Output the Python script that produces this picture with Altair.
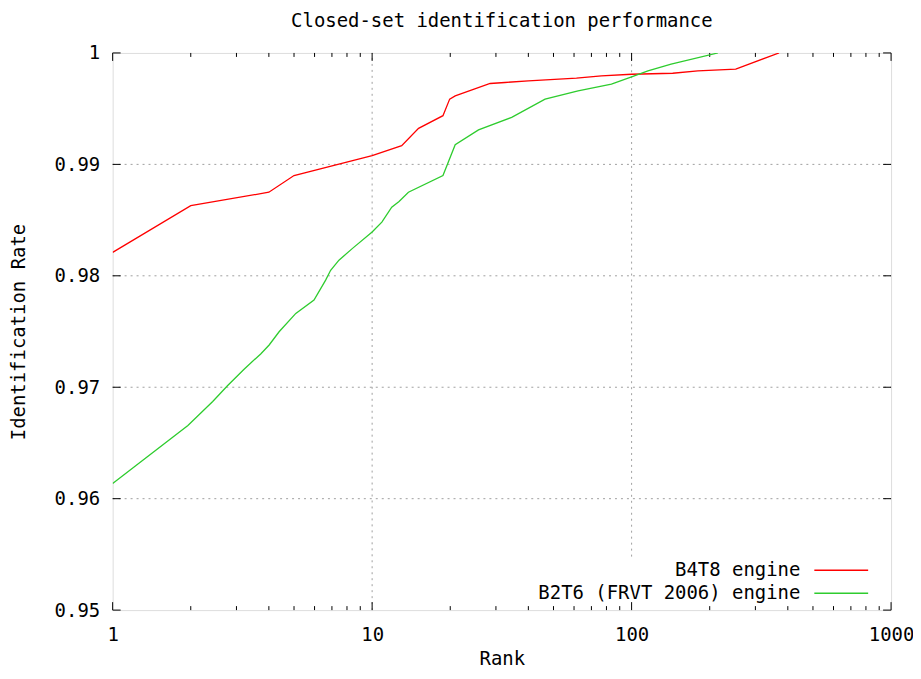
import altair as alt
import pandas as pd

# ---- data ----
red_name = "B4T8 engine"
red_rank = [1, 2, 4, 5, 10, 13, 15.1, 18.75, 19.9, 20.9, 28.5, 32.5, 40, 61.3, 76.5,
            100, 144, 180, 252, 272, 370]
red_rate = [0.9821, 0.9863, 0.9875, 0.9890, 0.99079, 0.99168, 0.99323, 0.99437, 0.99586,
            0.99615, 0.99726, 0.99735, 0.9975, 0.99774, 0.99794, 0.99809, 0.99818,
            0.99839, 0.99854, 0.99884, 1.0]

green_name = "B2T6 (FRVT 2006) engine"
green_rank = [1, 1.95, 2.43, 2.77, 3.21, 3.72, 4.01, 4.38, 5.08, 5.97, 6.62, 6.92, 7.45,
              8.38, 10, 10.9, 11.9, 12.7, 13.8, 18.75, 20.9, 25.7, 34.5, 46.4, 62.2,
              83.6, 100, 115.6, 142, 215]
green_rate = [0.96136, 0.96657, 0.96872, 0.97013, 0.97162, 0.97299, 0.97379, 0.97498,
              0.97663, 0.97782, 0.97961, 0.9805, 0.9814, 0.98244, 0.98393, 0.98482,
              0.98616, 0.98667, 0.9875, 0.989, 0.99177, 0.99309, 0.99422, 0.99586,
              0.9966, 0.9972, 0.99785, 0.99839, 0.99899, 1.0]

x_major = [1, 10, 100, 1000]
x_minor = [2, 3, 4, 5, 6, 7, 8, 9, 20, 30, 40, 50, 60, 70, 80, 90,
           200, 300, 400, 500, 600, 700, 800, 900]
y_major = [0.95, 0.96, 0.97, 0.98, 0.99, 1.0]
y_grid = [0.96, 0.97, 0.98, 0.99]
x_grid = [10, 100]
x_grid_from = [0.95, 0.9548]

title = "Closed-set identification performance"
x_title = "Rank"
y_title = "Identification Rate"

W, H = 781, 559
FONT = "DejaVu Sans Mono"
FS = 19
RED = "#ff0000"
GREEN = "#2ecc2e"

df = pd.concat([
    pd.DataFrame({"rank": red_rank, "rate": red_rate, "series": red_name}),
    pd.DataFrame({"rank": green_rank, "rate": green_rate, "series": green_name}),
])

xs = alt.Scale(type="log", domain=[1, 1000], nice=False)
ys = alt.Scale(domain=[0.95, 1.0], nice=False, zero=False)

xaxis = alt.Axis(values=x_major, format="d", grid=False, ticks=False, domain=False,
                 labelFont=FONT, labelFontSize=FS, labelColor="black", labelPadding=16,
                 labelFlush=False, labelOverlap=False, labelBaseline="top",
                 title=x_title, titleFont=FONT, titleFontSize=FS, titleFontWeight="normal",
                 titleColor="black", titleX=W / 2, titleY=55, titleBaseline="alphabetic",
                 titleAlign="center")
yaxis = alt.Axis(values=y_major, format=".2~f", grid=False, ticks=False, domain=False,
                 labelFont=FONT, labelFontSize=FS, labelColor="black", labelPadding=13,
                 labelFlush=False, labelOverlap=False, labelBaseline="middle",
                 title=y_title, titleFont=FONT, titleFontSize=FS, titleFontWeight="normal",
                 titleColor="black", titleX=-94, titleY=H / 2, titleBaseline="middle",
                 titleAlign="center", titleAngle=270)

grid_style = dict(color="#a0a0a0", strokeDash=[2, 4], strokeWidth=1)

hgrid = alt.Chart(pd.DataFrame({"y": y_grid})).mark_rule(**grid_style).encode(
    y=alt.Y("y:Q", scale=ys, axis=yaxis), x=alt.value(0), x2=alt.value(W))
vgrid = alt.Chart(pd.DataFrame({"x": x_grid, "y0": x_grid_from, "y1": [1.0] * len(x_grid)})).mark_rule(**grid_style).encode(
    x=alt.X("x:Q", scale=xs, axis=xaxis), y=alt.Y("y0:Q", scale=ys), y2="y1:Q")

tick_style = dict(color="black", strokeWidth=1)
xmaj = pd.DataFrame({"x": x_major})
xmin = pd.DataFrame({"x": x_minor})
ymaj = pd.DataFrame({"y": y_major})
ticks = [
    alt.Chart(xmaj).mark_rule(**tick_style).encode(x=alt.X("x:Q", scale=xs), y=alt.value(H), y2=alt.value(H - 8)),
    alt.Chart(xmaj).mark_rule(**tick_style).encode(x=alt.X("x:Q", scale=xs), y=alt.value(0), y2=alt.value(8)),
    alt.Chart(xmin).mark_rule(**tick_style).encode(x=alt.X("x:Q", scale=xs), y=alt.value(H), y2=alt.value(H - 4)),
    alt.Chart(xmin).mark_rule(**tick_style).encode(x=alt.X("x:Q", scale=xs), y=alt.value(0), y2=alt.value(4)),
    alt.Chart(ymaj).mark_rule(**tick_style).encode(y=alt.Y("y:Q", scale=ys), x=alt.value(0), x2=alt.value(8)),
    alt.Chart(ymaj).mark_rule(**tick_style).encode(y=alt.Y("y:Q", scale=ys), x=alt.value(W), x2=alt.value(W - 8)),
]

lines = alt.Chart(df).mark_line(strokeWidth=1.3, clip=True).encode(
    x=alt.X("rank:Q", scale=xs),
    y=alt.Y("rate:Q", scale=ys),
    color=alt.Color("series:N", scale=alt.Scale(domain=[red_name, green_name], range=[RED, GREEN]), legend=None),
    detail="series:N",
)

# manual gnuplot-style key: text right-aligned, sample line to the right
key_rows = [(red_name, RED, 519), (green_name, GREEN, 542)]
key_layers = []
for name, col, yy in key_rows:
    key_layers.append(
        alt.Chart(pd.DataFrame({"t": [name]})).mark_text(
            font=FONT, fontSize=FS, align="right", baseline="middle", color="black"
        ).encode(text="t:N", x=alt.value(690), y=alt.value(yy))
    )
    key_layers.append(
        alt.Chart(pd.DataFrame({"t": [name]})).mark_rule(color=col, strokeWidth=1.5).encode(
            x=alt.value(704), x2=alt.value(758), y=alt.value(yy))
    )

chart = alt.layer(hgrid, vgrid, *ticks, lines, *key_layers).properties(
    width=W, height=H,
    title=alt.TitleParams(title, font=FONT, fontSize=FS, fontWeight="normal", color="black",
                          anchor="middle", offset=13),
    autosize=alt.AutoSizeParams(type="none"),
    padding={"left": 105, "top": 44, "right": 22, "bottom": 60},
).configure_view(stroke="black", strokeWidth=1).configure(background="white")

chart.save("out.html", embed_options={"renderer": "svg", "actions": False})
